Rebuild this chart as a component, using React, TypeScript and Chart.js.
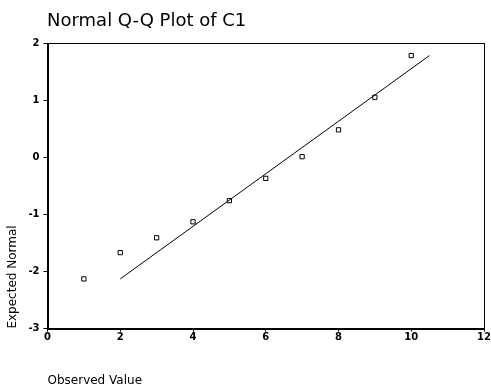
import React, { useEffect, useRef } from "react";
import { Chart, registerables } from "chart.js";

Chart.register(...registerables);

const chartTitle = "Normal Q-Q Plot of C1";
const xAxisTitle = "Observed Value";
const yAxisTitle = "Expected Normal";
const observed = [1, 2, 3, 4, 5, 6, 7, 8, 9, 10];
const expectedNormal = [-2.13, -1.67, -1.41, -1.13, -0.76, -0.37, 0.01, 0.48, 1.05, 1.78];
const lineX = [2, 10.5];
const lineY = [-2.13, 1.78];

const FONT = "'DejaVu Sans', Verdana, sans-serif";

const framePlugin = {
  id: "frame",
  afterDraw(chart: any) {
    const { ctx, chartArea } = chart;
    ctx.save();
    ctx.strokeStyle = "#000";
    ctx.lineWidth = 1;
    ctx.strokeRect(
      Math.round(chartArea.left) + 0.5,
      Math.round(chartArea.top) + 0.5,
      Math.round(chartArea.right - chartArea.left),
      Math.round(chartArea.bottom - chartArea.top)
    );
    ctx.fillStyle = "#000";
    ctx.font = `18px ${FONT}`;
    ctx.textBaseline = "alphabetic";
    ctx.textAlign = "left";
    ctx.fillText(chartTitle, 47, 26);
    ctx.restore();
  },
};

export default function App() {
  const ref = useRef<HTMLCanvasElement | null>(null);
  useEffect(() => {
    document.body.style.margin = "0";
    if (!ref.current) return;
    const chart = new Chart(ref.current, {
      type: "scatter",
      data: {
        datasets: [
          {
            type: "line",
            data: lineX.map((x, i) => ({ x, y: lineY[i] })),
            borderColor: "#000",
            borderWidth: 1,
            pointRadius: 0,
            fill: false,
          },
          {
            data: observed.map((x, i) => ({ x, y: expectedNormal[i] })),
            pointStyle: "rect",
            pointRadius: 3,
            borderColor: "#000",
            borderWidth: 1,
            backgroundColor: "#fff",
          },
        ],
      },
      options: {
        responsive: false,
        animation: false,
        layout: { padding: { top: 43, left: 6, right: 7, bottom: 2 } },
        plugins: { legend: { display: false }, tooltip: { enabled: false }, title: { display: false } },
        scales: {
          x: {
            type: "linear",
            min: 0,
            max: 12,
            ticks: { stepSize: 2, color: "#000", font: { family: FONT, size: 10, weight: "bold" }, padding: 0 },
            grid: { drawOnChartArea: false, tickLength: 3, color: "#000" },
            border: { color: "#000" },
            title: {
              display: true,
              text: xAxisTitle,
              align: "start",
              color: "#000",
              font: { family: FONT, size: 12 },
              padding: { top: 30, bottom: 0 },
            },
          },
          y: {
            type: "linear",
            min: -3,
            max: 2,
            ticks: { stepSize: 1, color: "#000", font: { family: FONT, size: 10, weight: "bold" }, padding: 4 },
            grid: { drawOnChartArea: false, tickLength: 4, color: "#000" },
            border: { color: "#000" },
            title: {
              display: true,
              text: yAxisTitle,
              align: "start",
              color: "#000",
              font: { family: FONT, size: 12 },
              padding: { top: 0, bottom: 4 },
            },
          },
        },
      },
      plugins: [framePlugin],
    } as any);
    return () => chart.destroy();
  }, []);
  return <canvas ref={ref} width={491} height={390} />;
}
